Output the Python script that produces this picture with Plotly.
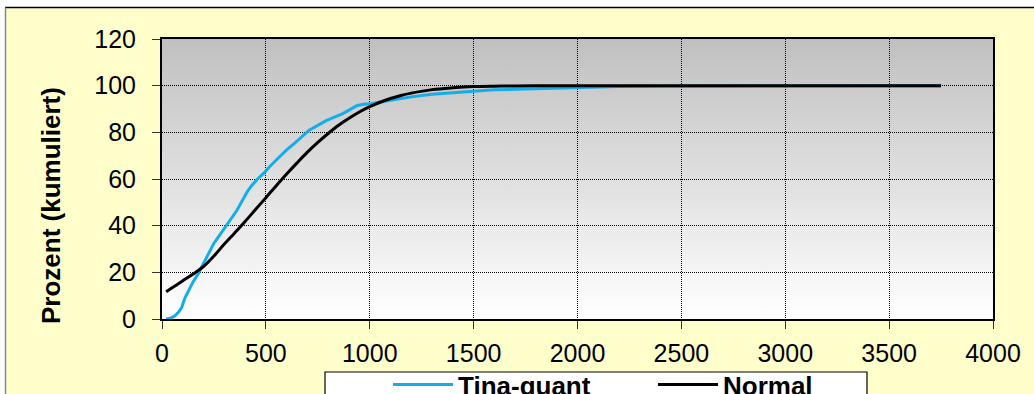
import base64
import plotly.graph_objects as go

# Cumulative percentage curves
tina_x = [20, 40, 60, 80, 95, 110, 130, 150, 175, 200, 225, 250, 270, 300, 330,
          360, 385, 410, 430, 460, 490, 520, 560, 600, 640, 680, 710, 750, 790, 830,
          870, 900, 940, 970, 1000, 1050, 1100, 1200, 1300, 1400, 1500, 1600, 1750,
          1900, 2000, 2200, 2400, 2700, 3000, 3400, 3750]
tina_y = [0, 0.3, 1.2, 3, 5, 9, 12.5, 16, 19.5, 24, 28, 32.5, 35, 39, 43,
          46.5, 50.5, 54.5, 57, 60, 62.5, 65.5, 69, 72.5, 75.5, 78.5, 81, 83, 85, 86.5,
          88, 89.5, 91.5, 92, 92.2, 93, 93.8, 95.2, 96.3, 97, 97.8, 98.2, 98.6,
          99, 99.3, 99.6, 99.8, 99.9, 100, 100, 100]

normal_x = [20, 60, 100, 150, 200, 250, 300, 350, 400, 450, 500, 550, 600, 650, 700,
            750, 800, 850, 900, 950, 1000, 1050, 1100, 1150, 1200, 1300, 1400, 1500,
            1600, 1700, 1850, 2000, 2500, 3000, 3750]
normal_y = [11.7, 14.0, 16.4, 19.3, 22.5, 27.0, 32.1, 36.9, 41.8, 46.9, 52.0, 57.1,
            62.1, 66.9, 71.5, 75.7, 79.5, 83.0, 86.0, 88.7, 91.0, 92.9, 94.5, 95.8,
            96.8, 98.3, 99.1, 99.6, 99.8, 99.9, 100, 100, 100, 100, 100]

x_ticks = [0, 500, 1000, 1500, 2000, 2500, 3000, 3500, 4000]
y_ticks = [0, 20, 40, 60, 80, 100, 120]

series_names = ["Tina-quant", "Normal"]

# Figure geometry
W, H = 1034, 394
ML, MR, MT, MB = 162, 41, 39, 75
PW, PH = W - ML - MR, H - MT - MB


def px_x(px):
    return (px - ML) / PW


def px_y(py):
    return (H - MB - py) / PH


BLUE = "#13aeea"
YELLOW = "#ffffcc"
FONT = "Liberation Sans, Arial, sans-serif"

# vertical grey-to-white gradient for the plotting area
grad_svg = (
    '<svg xmlns="http://www.w3.org/2000/svg" width="10" height="100" '
    'preserveAspectRatio="none">'
    '<defs><linearGradient id="g" x1="0" y1="0" x2="0" y2="1">'
    '<stop offset="0" stop-color="#c0c0c0"/>'
    '<stop offset="1" stop-color="#ffffff"/>'
    '</linearGradient></defs>'
    '<rect width="10" height="100" fill="url(#g)"/></svg>'
)
grad_src = "data:image/svg+xml;base64," + base64.b64encode(grad_svg.encode()).decode()

fig = go.Figure()
fig.add_trace(go.Scatter(x=tina_x, y=tina_y, name=series_names[0], mode="lines",
                         line=dict(color=BLUE, width=3)))
fig.add_trace(go.Scatter(x=normal_x, y=normal_y, name=series_names[1], mode="lines",
                         line=dict(color="black", width=3, shape="spline")))

grid = dict(showgrid=True, gridcolor="black", gridwidth=1, griddash="1px,1px",
            showline=True, linecolor="black", linewidth=2, mirror=True,
            ticks="outside", ticklen=8, tickcolor="#333", tickwidth=1,
            tickfont=dict(family=FONT, size=25, color="black"), zeroline=False,
            automargin=False)

fig.update_layout(
    width=W, height=H,
    margin=dict(l=ML, r=MR, t=MT, b=MB, autoexpand=False),
    paper_bgcolor=YELLOW, plot_bgcolor="white",
    showlegend=True,
    legend=dict(orientation="h", xref="container", yref="container",
                x=388 / W, y=1 - 361 / H, xanchor="left", yanchor="top",
                bgcolor="rgba(0,0,0,0)", borderwidth=0, itemwidth=60,
                entrywidth=190,
                font=dict(family=FONT, size=26, color="black", weight="bold")),
    xaxis=dict(range=[0, 4000], tickvals=x_ticks, ticklabelstandoff=3, **grid),
    yaxis=dict(range=[0, 120], tickvals=y_ticks, ticklabelstandoff=11, **grid),
    images=[dict(source=grad_src, xref="x", yref="y", x=0, y=120, sizex=4000, sizey=120,
                 sizing="stretch", layer="below")],
    annotations=[dict(text="<b>Prozent (kumuliert)</b>", textangle=-90,
                      xref="paper", yref="paper", x=px_x(51), y=px_y(205),
                      xanchor="center", yanchor="middle", showarrow=False,
                      font=dict(family=FONT, size=26, color="black"))],
    shapes=[
        # white page strip above and left of the chart frame
        dict(type="rect", xref="paper", yref="paper", x0=px_x(0), x1=px_x(W),
             y0=px_y(7), y1=px_y(0), fillcolor="white", line_width=0, layer="below"),
        dict(type="rect", xref="paper", yref="paper", x0=px_x(0), x1=px_x(5),
             y0=px_y(H), y1=px_y(0), fillcolor="white", line_width=0, layer="below"),
        dict(type="line", xref="paper", yref="paper", x0=px_x(5), x1=px_x(W),
             y0=px_y(7.5), y1=px_y(7.5), line=dict(color="black", width=1.5)),
        dict(type="line", xref="paper", yref="paper", x0=px_x(5.5), x1=px_x(5.5),
             y0=px_y(H), y1=px_y(7.5), line=dict(color="#888", width=1.5)),
        # legend box
        dict(type="rect", xref="paper", yref="paper", x0=px_x(325), x1=px_x(867),
             y0=px_y(H + 20), y1=px_y(372), fillcolor="white",
             line=dict(color="black", width=1.2)),
    ],
)

fig.write_html("out.html")
